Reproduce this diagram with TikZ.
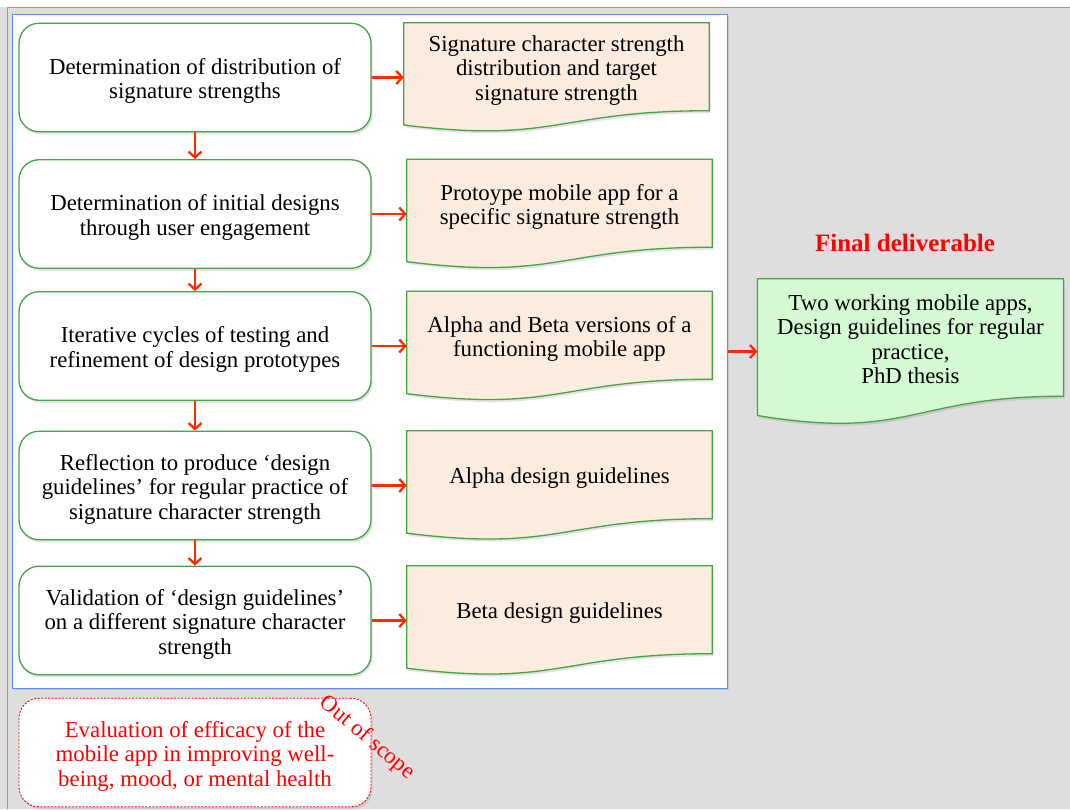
\documentclass[tikz,border=0pt]{standalone}
\usepackage{fontspec}
\setmainfont{Liberation Serif}
\usetikzlibrary{arrows.meta,calc,shadows}
\definecolor{boxgreen}{HTML}{45A445}
\definecolor{docfill}{HTML}{FCEBDF}
\definecolor{finfill}{HTML}{D5F9D3}
\definecolor{arrred}{HTML}{FF2A00}
\definecolor{txtred}{HTML}{FF0000}
\definecolor{frameblue}{HTML}{5B8DEF}
\definecolor{bggray}{HTML}{DEDEDE}
\definecolor{edgered}{HTML}{C98A80}
\newcommand\mainfs{\fontsize{22.8}{24.5}\selectfont}
\newcommand\lw[1][23pt]{\rule{0pt}{#1}}
\pgfdeclarelayer{back}
\pgfdeclarelayer{docs}
\pgfsetlayers{back,docs,main}
\tikzset{
  softshadow/.style={drop shadow={opacity=0.22, shadow xshift=1.5pt, shadow yshift=-2.5pt}},
  stepbox/.style={draw=boxgreen, line width=1.3pt, rounded corners=20pt, fill=white,
    minimum width=352pt, minimum height=108.5pt, align=center, inner sep=0pt,
    font=\mainfs, softshadow},
  scopebox/.style={draw=txtred, line width=0.9pt, dashed, dash pattern=on 2pt off 1.5pt,
    rounded corners=20pt, fill=white, minimum width=352pt, minimum height=108.5pt,
    align=center, inner sep=0pt, font=\mainfs, text=txtred, softshadow},
  docnode/.style={minimum width=305pt, minimum height=87.5pt, inner sep=0pt,
    align=center, font=\mainfs},
  docline/.style={draw=boxgreen, line width=1.3pt, softshadow},
  flowarrow/.style={draw=arrred, line width=2.3pt,
    -{Straight Barb[length=6pt,width=13pt,line width=2.3pt]}},
}
\newcommand\docpath[4]{%
  \path[docline, fill=#4] (#1.north west) -- (#1.north east) -- (#1.south east)
    .. controls (#1.south) and ($(#1.south)+(0,#2)$) .. ($(#1.south west)+(0,#3)$) -- cycle;}
\begin{document}
\begin{tikzpicture}[x=1pt,y=-1pt]
\useasboundingbox (0,0) rectangle (1070,809);
\begin{pgfonlayer}{back}
  \fill[bggray] (0,0) rectangle (1070,809);
  \fill[white] (0,0) rectangle (1070,7);
  \draw[edgered, line width=1.2pt] (7.5,809) -- (7.5,7.5) -- (1070,7.5);
  \node[draw=frameblue, line width=0.9pt, fill=white, inner sep=0pt,
        minimum width=715pt, minimum height=674pt,
        drop shadow={opacity=0.25, shadow xshift=1.5pt, shadow yshift=-2pt}]
        (frame) at (369.5,351) {};
\end{pgfonlayer}

% process steps
\node[stepbox] (b1) at (195,77.5) {\lw Determination of distribution of\\signature strengths};
\node[stepbox] (b2) at (195,214) {\lw Determination of initial designs\\through user engagement};
\node[stepbox] (b3) at (195,346) {\lw Iterative cycles of testing and\\refinement of design prototypes};
\node[stepbox] (b4) at (195,485.5) {\lw Reflection to produce ‘design\\guidelines’ for regular practice of\\signature character strength};
\node[stepbox] (b5) at (195,620.5) {\lw Validation of ‘design guidelines’\\on a different signature character\\strength};

% documents
\node[docnode] (d1) at (556.5,66.75) {\lw Signature character strength\\distribution and target\\signature strength};
\node[docnode] (d2) at (559.5,203.25) {\lw Protoype mobile app for a\\specific signature strength};
\node[docnode] (d3) at (559.5,335.25) {\lw Alpha and Beta versions of a\\functioning mobile app};
\node[docnode] (d4) at (559.5,474.75) {\lw Alpha design guidelines};
\node[docnode] (d5) at (559.5,609.75) {\lw Beta design guidelines};
\node[docnode, minimum width=305.5pt, minimum height=117pt] (fin) at (910.5,337.5)
  {\lw[19pt]Two working mobile apps,\\Design guidelines for regular\\practice,\\PhD thesis};
\begin{pgfonlayer}{docs}
  \docpath{d1}{33.2}{14.3}{docfill}
  \docpath{d2}{33.5}{14.5}{docfill}
  \docpath{d3}{33.5}{14.5}{docfill}
  \docpath{d4}{33.5}{14.5}{docfill}
  \docpath{d5}{33.5}{14.5}{docfill}
  \docpath{fin}{44.6}{19.3}{finfill}
\end{pgfonlayer}

\node[font=\fontsize{25}{26}\selectfont\bfseries, text=txtred] (ftitle) at (905,243) {Final deliverable};

% out of scope
\node[scopebox] (oos) at (195,752.5) {\lw Evaluation of efficacy of the\\mobile app in improving well-\\being, mood, or mental health};
\node[font=\mainfs, text=txtred, rotate=-40] (oslabel) at (367,738) {Out of scope};

% connectors
\draw[flowarrow] (b1.south) -- (b2.north);
\draw[flowarrow] (b2.south) -- (b3.north);
\draw[flowarrow] (b3.south) -- (b4.north);
\draw[flowarrow] (b4.south) -- (b5.north);
\draw[flowarrow] (b1.east) -- (b1.east -| d1.west);
\draw[flowarrow] (b2.east) -- (b2.east -| d2.west);
\draw[flowarrow] (b3.east) -- (b3.east -| d3.west);
\draw[flowarrow] (b4.east) -- (b4.east -| d4.west);
\draw[flowarrow] (b5.east) -- (b5.east -| d5.west);
\coordinate (fa) at (728,351.5);
\draw[flowarrow] (fa) -- (fa -| fin.west);
\end{tikzpicture}
\end{document}
